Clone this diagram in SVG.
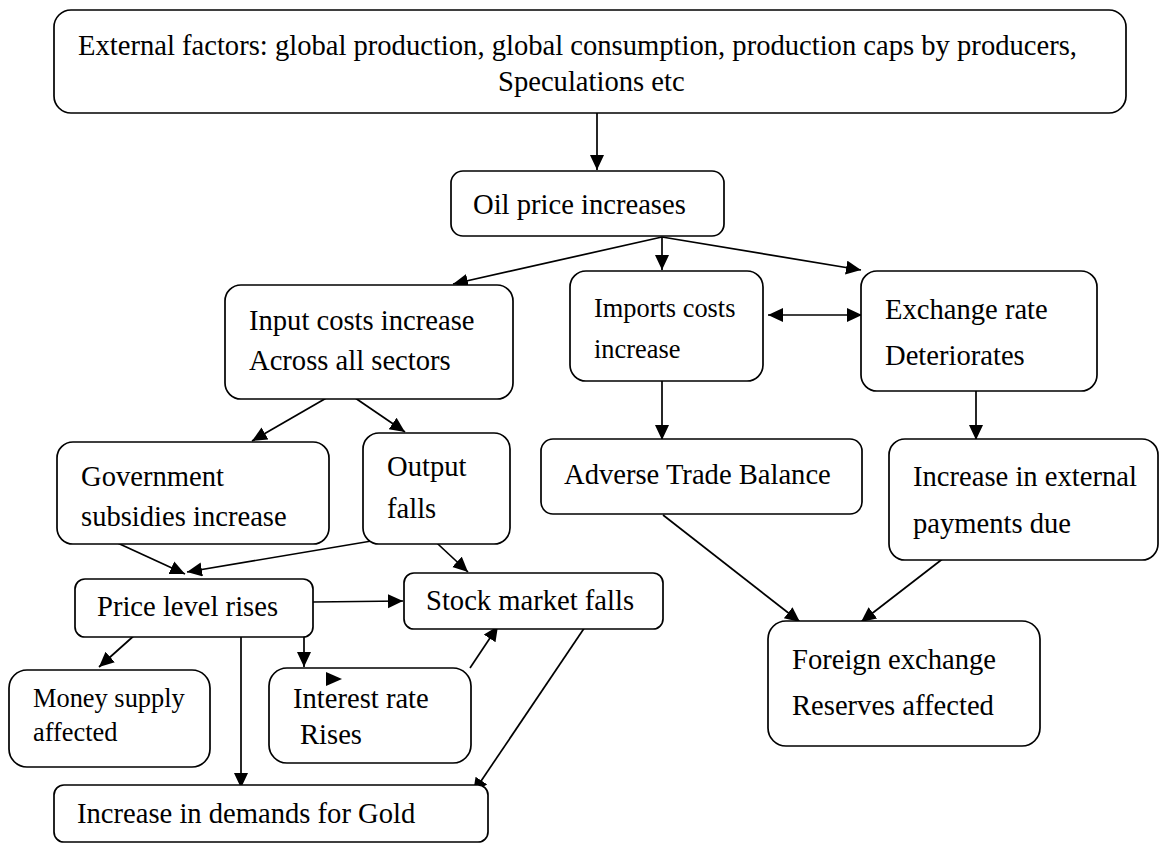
<svg xmlns="http://www.w3.org/2000/svg" width="1161" height="845" viewBox="0 0 1161 845">
<defs>
<style>
.box{fill:#fff;stroke:#000;stroke-width:1.7}
.t{font-family:"Liberation Serif","Times New Roman",serif;font-size:28.6px;fill:#000}
.s{font-size:26.4px}
.c{fill:none;stroke:#000;stroke-width:1.7}
</style>
<marker id="ah" markerUnits="userSpaceOnUse" markerWidth="18" markerHeight="16" refX="15" refY="7" orient="auto-start-reverse"><path d="M0,0 L15,7 L0,14 z" fill="#000"/></marker>
</defs>
<rect width="1161" height="845" fill="#fff"/>
<g id="connectors">
<line class="c" x1="597" y1="113" x2="597" y2="170" marker-end="url(#ah)"/>
<line class="c" x1="662" y1="237" x2="453" y2="284" marker-end="url(#ah)"/>
<line class="c" x1="662" y1="237" x2="662" y2="270" marker-end="url(#ah)"/>
<line class="c" x1="662" y1="237" x2="861" y2="270" marker-end="url(#ah)"/>
<line class="c" x1="768" y1="315" x2="862" y2="315" marker-start="url(#ah)" marker-end="url(#ah)"/>
<line class="c" x1="662" y1="381" x2="662" y2="440" marker-end="url(#ah)"/>
<line class="c" x1="976" y1="380" x2="976" y2="440" marker-end="url(#ah)"/>
<line class="c" x1="663" y1="515" x2="800" y2="622" marker-end="url(#ah)"/>
<line class="c" x1="958" y1="547" x2="861" y2="622" marker-end="url(#ah)"/>
<line class="c" x1="342" y1="389" x2="252" y2="441" marker-end="url(#ah)"/>
<line class="c" x1="342" y1="389" x2="405" y2="432" marker-end="url(#ah)"/>
<line class="c" x1="111" y1="540" x2="185" y2="574" marker-end="url(#ah)"/>
<line class="c" x1="425" y1="532" x2="187" y2="572" marker-end="url(#ah)"/>
<line class="c" x1="425" y1="532" x2="468" y2="572" marker-end="url(#ah)"/>
<line class="c" x1="313" y1="602" x2="403" y2="601" marker-end="url(#ah)"/>
<line class="c" x1="137" y1="633" x2="99" y2="667" marker-end="url(#ah)"/>
<line class="c" x1="241" y1="633" x2="241" y2="788" marker-end="url(#ah)"/>
<line class="c" x1="304" y1="632" x2="304" y2="667" marker-end="url(#ah)"/>
<line class="c" x1="470" y1="668" x2="498" y2="626" marker-end="url(#ah)"/>
<line class="c" x1="587" y1="624" x2="473" y2="793" marker-end="url(#ah)"/>
</g>
<g id="top"><rect class="box" x="54" y="10" width="1072" height="103" rx="17"/>
<text class="t" x="78" y="55">External factors: global production, global consumption, production caps by producers,</text>
<text class="t" x="498" y="91">Speculations etc</text></g>
<g id="oil"><rect class="box" x="451" y="171" width="273" height="65" rx="12"/>
<text class="t" x="473" y="214">Oil price increases</text></g>
<g id="input"><rect class="box" x="225" y="285" width="288" height="114" rx="16"/>
<text class="t" x="249" y="330">Input costs increase</text>
<text class="t" x="249" y="370">Across all sectors</text></g>
<g id="imports"><rect class="box" x="570" y="271" width="193" height="110" rx="16"/>
<text class="t s" x="594" y="317">Imports costs</text>
<text class="t s" x="594" y="358">increase</text></g>
<g id="exchange"><rect class="box" x="861" y="271" width="236" height="120" rx="16"/>
<text class="t" x="885" y="319">Exchange rate</text>
<text class="t" x="885" y="365">Deteriorates</text></g>
<g id="govt"><rect class="box" x="57" y="442" width="272" height="102" rx="16"/>
<text class="t" x="81" y="486">Government</text>
<text class="t" x="81" y="526">subsidies increase</text></g>
<g id="output"><rect class="box" x="363" y="433" width="147" height="111" rx="16"/>
<text class="t" x="387" y="476">Output</text>
<text class="t" x="387" y="518">falls</text></g>
<g id="adverse"><rect class="box" x="541" y="439" width="321" height="75" rx="12"/>
<text class="t" x="564" y="484">Adverse Trade Balance</text></g>
<g id="increase"><rect class="box" x="889" y="439" width="269" height="121" rx="16"/>
<text class="t" x="913" y="486">Increase in external</text>
<text class="t" x="913" y="533">payments due</text></g>
<g id="foreign"><rect class="box" x="768" y="621" width="272" height="125" rx="18"/>
<text class="t" x="792" y="669">Foreign exchange</text>
<text class="t" x="792" y="715">Reserves affected</text></g>
<g id="price"><rect class="box" x="75" y="579" width="238" height="58" rx="10"/>
<text class="t" x="97" y="616">Price level rises</text></g>
<g id="stock"><rect class="box" x="404" y="573" width="259" height="56" rx="10"/>
<text class="t" x="426" y="610">Stock market falls</text></g>
<g id="money"><rect class="box" x="9" y="670" width="201" height="97" rx="18"/>
<text class="t s" x="33" y="707">Money supply</text>
<text class="t s" x="33" y="741">affected</text></g>
<g id="interest"><rect class="box" x="269" y="668" width="202" height="95" rx="18"/>
<text class="t" x="293" y="708">Interest rate</text>
<text class="t" x="300" y="744">Rises</text>
<polygon points="326,672 342,679 326,686" fill="#000"/></g>
<g id="gold"><rect class="box" x="54" y="785" width="434" height="57" rx="10"/>
<text class="t" x="77" y="823">Increase in demands for Gold</text></g>
</svg>
